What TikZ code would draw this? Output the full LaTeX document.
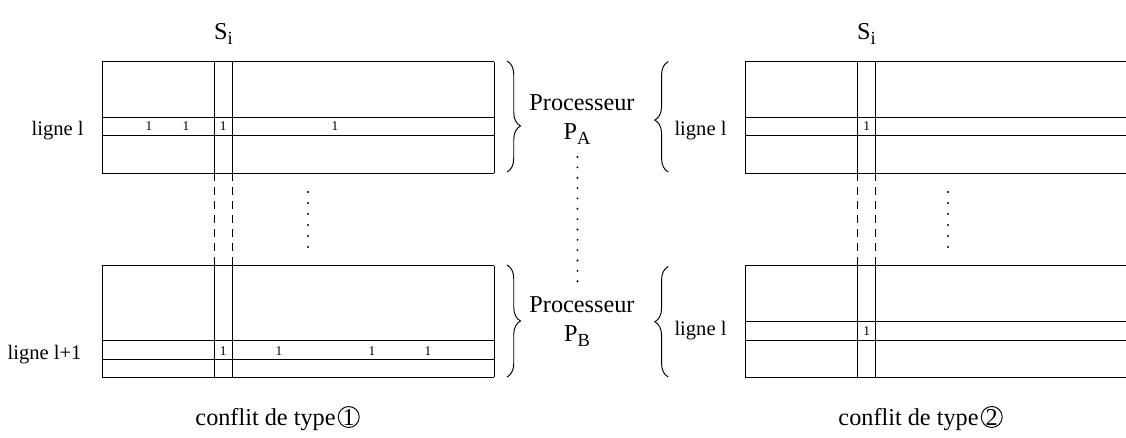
\documentclass[tikz,border=0pt]{standalone}
\usepackage{fontspec}
\setmainfont{Liberation Serif}
\usetikzlibrary{positioning,decorations.pathreplacing}
\def\hg{111.5}   % hauteur d'une grille
\def\lc{18.4}    % largeur de la colonne S_i
\def\hl{18.3}    % hauteur d'une ligne
\tikzstyle{titre}=[inner sep=0pt,font=\fontsize{13.8}{16}\selectfont]
\tikzstyle{ligne}=[inner sep=0pt,font=\fontsize{11.7}{14}\selectfont]
\tikzstyle{un}=[inner sep=0pt,font=\fontsize{7.6}{9}\selectfont]
\tikzstyle{rond}=[draw,circle,inner sep=0pt,minimum size=0.42cm,font=\fontsize{13.8}{16}\selectfont]
\tikzstyle{pointille}=[dash pattern=on 4.6pt off 3.4pt]
\tikzstyle{accolade}=[decorate,decoration={brace,amplitude=0.27cm}]
\newcommand{\indice}[1]{\raisebox{-0.45ex}{\fontsize{10.5}{12}\selectfont #1}}
\newcommand{\newGrille}[6]{%
  \draw (#6,#3) -- (#2,#3) -- (#2,#3+\hg) -- (#6,#3+\hg);
  \draw (#2,#5) -- (#6,#5) (#2,#5+\hl) -- (#6,#5+\hl);
  \draw (#4,#3) coordinate (#1h1) -- (#4,#3+\hg) coordinate (#1b1);
  \draw (#4+\lc,#3) coordinate (#1h2) -- (#4+\lc,#3+\hg) coordinate (#1b2);
  \coordinate (#1hd) at (#6,#3); \coordinate (#1bd) at (#6,#3+\hg);}
\newcommand{\newPoints}[4]{\foreach \k in {0,...,#3} \fill (#1,#2+#4*\k) circle (0.021cm);}

\begin{document}
\begin{tikzpicture}[x=0.02cm,y=-0.02cm,line width=0.55pt,
    node distance=0pt and 1pt
    ]
    \useasboundingbox (0,0) rectangle (1126,437);
    % conflit de type 1
    \newGrille{gA}{102}{61.5}{214.3}{117.5}{494}
    \newGrille{gB}{102}{265.7}{214.3}{340.7}{494}
    \draw (gAhd) -- (gAbd);
    \draw (gBhd) -- (gBbd);
    \draw[pointille] (gAb1) -- (gBh1);
    \draw[pointille] (gAb2) -- (gBh2);
    \newPoints{308}{192}{5}{11}
    \node[titre,anchor=base] (siA) at (223.5,39.5) {S\indice{i}};
    \node[ligne,anchor=base] (lA) at (57.7,135.5) {ligne l};
    \node[ligne,anchor=base] (lB) at (44.5,359) {ligne l+1};
    \foreach \x [count=\i] in {149,186,223.3,335}
      \node[un] (uA\i) at (\x,126.3) {1};
    \foreach \x [count=\i] in {223.3,279,372,428}
      \node[un] (uB\i) at (\x,351) {1};
    \node[titre,anchor=base west] (confA) at (195,425) {conflit de type};
    \node[rond,anchor=base west,xshift=1pt] (nA) at (confA.base east) {1};
    % processeurs
    \draw[accolade,decoration={aspect=0.585}] (507,61) -- (507,172);
    \draw[accolade] (507,265) -- (507,377);
    \node[titre,anchor=base] (procA) at (582,110) {Processeur};
    \node[titre,anchor=base] (pA) at (577,139) {P\indice{A}};
    \node[titre,anchor=base] (procB) at (582,312) {Processeur};
    \node[titre,anchor=base] (pB) at (577,341) {P\indice{B}};
    \newPoints{577.5}{157}{12}{10.35}
    % conflit de type 2
    \draw[accolade,decoration={aspect=0.47}] (668.3,172) -- (668.3,61.5);
    \draw[accolade] (668.3,377) -- (668.3,266.5);
    \newGrille{gC}{745}{61.5}{857.3}{117.5}{1126}
    \newGrille{gD}{745}{265.7}{857.3}{321.7}{1126}
    \draw[pointille] (gCb1) -- (gDh1);
    \draw[pointille] (gCb2) -- (gDh2);
    \newPoints{948}{192}{5}{11}
    \node[titre,anchor=base] (siC) at (866.5,39.5) {S\indice{i}};
    \node[ligne,anchor=base] (lC) at (700.5,135.5) {ligne l};
    \node[ligne,anchor=base] (lD) at (700.5,335.5) {ligne l};
    \node[un] (uC) at (866.7,126.3) {1};
    \node[un] (uD) at (866.7,331) {1};
    \node[titre,anchor=base west] (confC) at (838,425) {conflit de type};
    \node[rond,anchor=base west,xshift=1pt] (nC) at (confC.base east) {2};
  \end{tikzpicture}
\end{document}
